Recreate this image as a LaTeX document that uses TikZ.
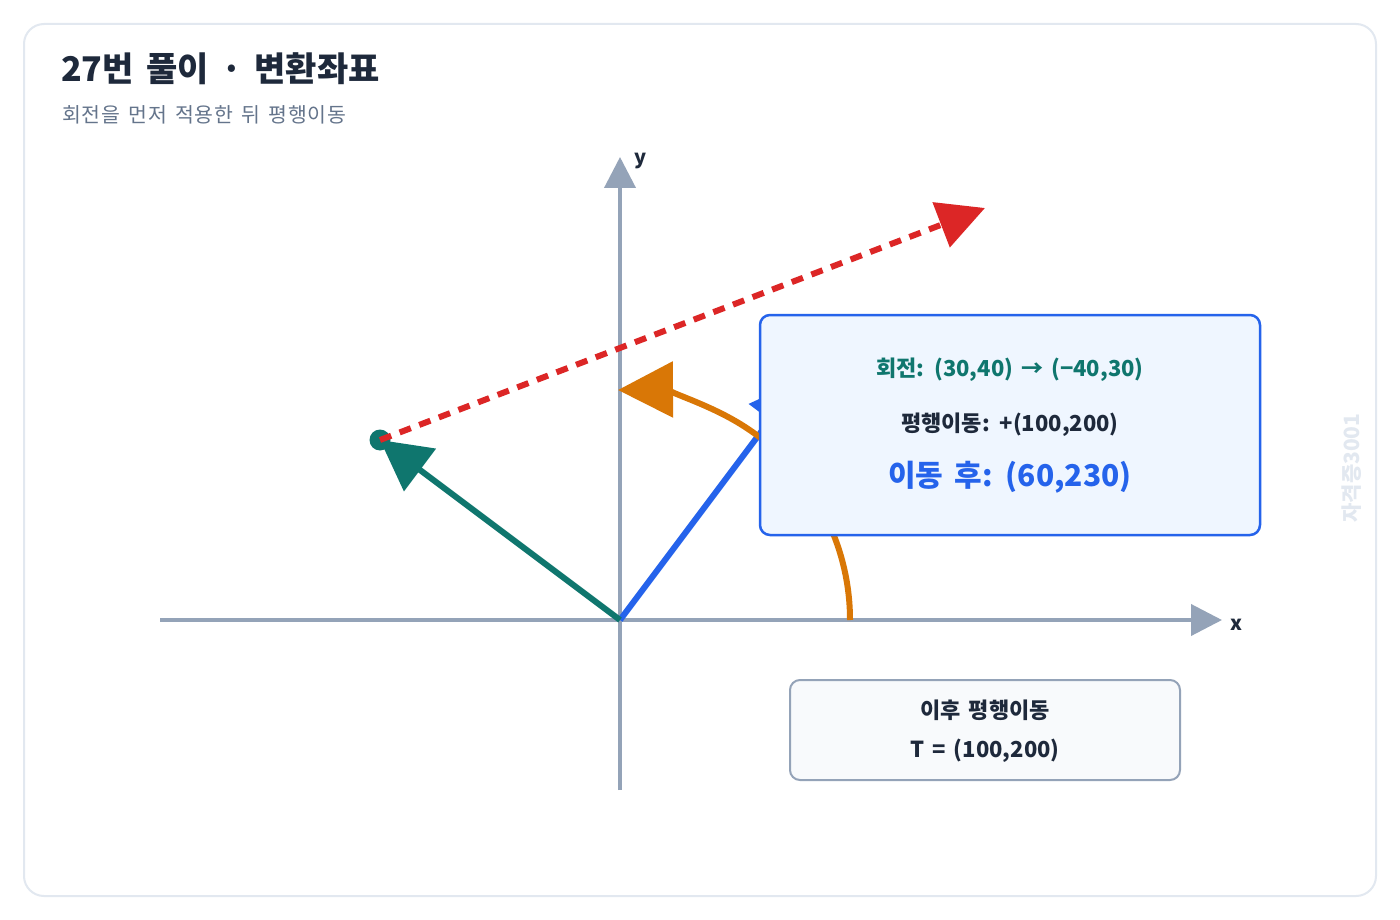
\documentclass[tikz,border=0pt]{standalone}
\usepackage{fontspec}
\setmainfont{Noto Sans CJK KR}[WordSpace=1.6]
\newfontfamily\subfont{Noto Sans CJK KR}[WordSpace=1.5, LetterSpace=4]
\usetikzlibrary{arrows.meta}
\definecolor{axisgray}{HTML}{94A3B8}
\definecolor{framec}{HTML}{E2E8F0}
\definecolor{titlec}{HTML}{1E293B}
\definecolor{subc}{HTML}{64748B}
\definecolor{tealc}{HTML}{0F766E}
\definecolor{bluec}{HTML}{2563EB}
\definecolor{orangec}{HTML}{D97706}
\definecolor{redc}{HTML}{DC2626}
\definecolor{boxfill}{HTML}{EFF6FF}
\definecolor{box2fill}{HTML}{F8FAFC}
\definecolor{wmc}{HTML}{E2E8F0}
\tikzset{
  axisline/.style={axisgray, line width=4pt, -{Triangle[length=31pt,width=31pt]}},
  vecline/.style={line width=6pt, -{Triangle[length=50pt,width=52pt]}},
  infobox/.style={rounded corners=10pt, line width=2.5pt, draw=bluec, fill=boxfill, minimum width=500pt, minimum height=220pt},
  notebox/.style={rounded corners=10pt, line width=2pt, draw=axisgray, fill=box2fill, minimum width=390pt, minimum height=100pt},
}
\begin{document}
\begin{tikzpicture}[x=1pt,y=-1pt]
\useasboundingbox (0,0) rectangle (1400,920);
\fill[white] (0,0) rectangle (1400,920);
\draw[framec, line width=2pt, rounded corners=20pt, fill=white] (24,24) rectangle (1376,896);

% titles
\node[anchor=base west, inner sep=0pt, text=titlec, font=\bfseries\fontsize{34}{40}\selectfont] (title) at (61,82) {27번 풀이 · 변환좌표};
\node[anchor=base west, inner sep=0pt, text=subc, font=\subfont\fontsize{20.5}{24}\selectfont] (subtitle) at (62,123) {회전을 먼저 적용한 뒤 평행이동};

% coordinates
\coordinate (O) at (620,620);
\coordinate (xs) at (160,620);
\coordinate (xe) at (1222,620);
\coordinate (ys) at (620,790);
\coordinate (ye) at (620,157);
\coordinate (P) at (800,380);
\coordinate (Q) at (380,440);
\coordinate (R) at (985,208);

% axes
\draw[axisline] (xs) -- (xe);
\draw[axisline] (ys) -- (ye);
\node[anchor=west, inner sep=0pt, text=titlec, font=\bfseries\fontsize{20}{24}\selectfont] (xlab) at (1230,625) {x};
\node[anchor=west, inner sep=0pt, text=titlec, font=\bfseries\fontsize{20}{24}\selectfont] (ylab) at (634,161) {y};

% original vector (blue)
\draw[vecline, bluec] (O) -- (P);
% rotation arc (orange)
\draw[orangec, line width=6pt, -{Triangle[length=55pt,width=55pt]}] (850,620) arc[start angle=0, end angle=-90.5, radius=230];
% rotated vector (teal)
\fill[tealc] (Q) circle (10.5);
\draw[vecline, tealc] (O) -- (Q);
% translation (red dashed)
\draw[redc, line width=6pt, dash pattern=on 12pt off 9pt, -{Triangle[length=47pt,width=47pt]}] (Q) -- (R);

% info box
\node[infobox] (info) at (1010,425) {};
\node[text=tealc, font=\bfseries\fontsize{22}{26}\selectfont] (l1) at (1010,370) {회전: (30,40) → (−40,30)};
\node[text=titlec, font=\bfseries\fontsize{22}{26}\selectfont] (l2) at (1010,425) {평행이동: +(100,200)};
\node[text=bluec, font=\bfseries\fontsize{30}{36}\selectfont] (l3) at (1010,477) {이동 후: (60,230)};

% note box
\node[notebox] (note) at (985,730) {};
\node[text=titlec, font=\bfseries\fontsize{22}{26}\selectfont] (n1) at (985,710) {이후 평행이동};
\node[text=titlec, font=\bfseries\fontsize{22}{26}\selectfont] (n2) at (985,751) {T = (100,200)};

% watermark
\node[rotate=90, text=wmc, font=\bfseries\fontsize{21}{24}\selectfont] (wm) at (1352,468) {자격증3001};
\end{tikzpicture}
\end{document}
